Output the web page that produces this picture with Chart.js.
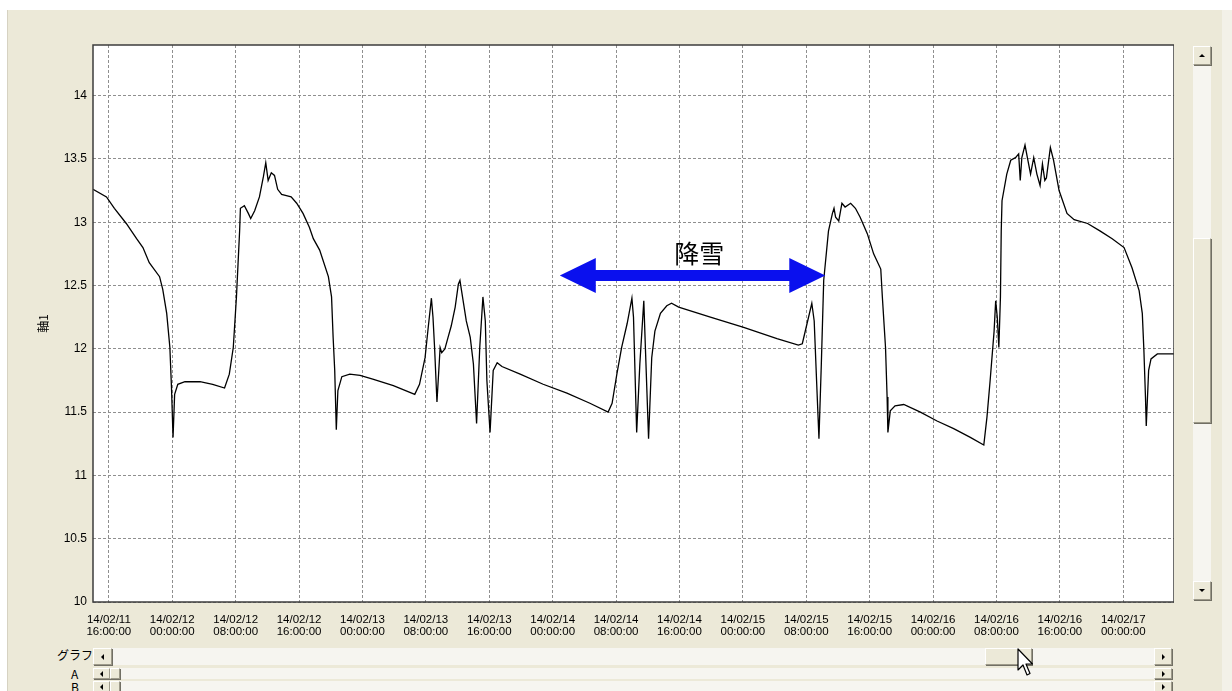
<!DOCTYPE html>
<html lang="ja">
<head>
<meta charset="utf-8">
<title>軸1 グラフ</title>
<script src="https://cdn.jsdelivr.net/npm/chart.js@4.4.1/dist/chart.umd.min.js"></script>
<style>
html, body { margin: 0; padding: 0; width: 1232px; height: 691px; overflow: hidden; background: #fff; }
#panel { position: absolute; left: 7px; top: 10px; width: 1225px; height: 681px; background: #ece9d8; border-left: 1px solid #d6d2c2; box-sizing: border-box; }
#edge { position: absolute; left: 1222px; top: 10px; width: 10px; height: 681px; background: #f3f1e8; }
#chartBox { position: absolute; left: 8px; top: 10px; width: 1166px; height: 632px; }
.track { position: absolute; background: #f6f5f0; }
.btn { position: absolute; box-sizing: border-box; background: #ece9d8; border: 1px solid; border-color: #fff #9d9a8a #9d9a8a #fff; box-shadow: 1px 1px 0 #716f64; }
.tri { position: absolute; width: 0; height: 0; border: 3px solid transparent; }
.up { border-top-width: 0; border-bottom-color: #000; }
.down { border-bottom-width: 0; border-top-color: #000; }
.left { border-left-width: 0; border-right-color: #000; }
.right { border-right-width: 0; border-left-color: #000; }
.lbl { position: absolute; font: 12px "Noto Sans CJK JP", sans-serif; color: #000; line-height: 12px; }
</style>
</head>
<body>
<div id="panel"></div>
<div id="edge"></div>

<div id="chartBox"><canvas id="lineChart"></canvas></div>

<!-- vertical scrollbar -->
<div class="track" style="left:1193px; top:46px; width:18px; height:554px;"></div>
<div class="btn" style="left:1193px; top:46px; width:18px; height:19px;"><div class="tri up" style="left:5px; top:7px;"></div></div>
<div class="btn" style="left:1193px; top:238px; width:18px; height:185px;"></div>
<div class="btn" style="left:1193px; top:581px; width:18px; height:19px;"><div class="tri down" style="left:5px; top:7px;"></div></div>

<!-- bottom scrollbars -->
<div class="lbl" style="left:57px; top:649px;">グラフ</div>
<div class="track" style="left:93px; top:648px; width:1079px; height:17px;"></div>
<div class="btn" style="left:93px; top:648px; width:19px; height:17px;"><div class="tri left" style="left:7px; top:5px;"></div></div>
<div class="btn" style="left:985px; top:648px; width:47px; height:17px;"></div>
<div class="btn" style="left:1154px; top:648px; width:18px; height:17px;"><div class="tri right" style="left:7px; top:5px;"></div></div>

<div class="lbl" style="left:71px; top:668px;">A</div>
<div class="track" style="left:93px; top:668px; width:1079px; height:11px;"></div>
<div class="btn" style="left:93px; top:668px; width:17px; height:11px;"><div class="tri left" style="left:6px; top:2px;"></div></div>
<div class="btn" style="left:110px; top:668px; width:10px; height:11px;"></div>
<div class="btn" style="left:1154px; top:668px; width:18px; height:11px;"><div class="tri right" style="left:7px; top:2px;"></div></div>

<div class="lbl" style="left:71px; top:681px;">B</div>
<div class="track" style="left:93px; top:681px; width:1079px; height:11px;"></div>
<div class="btn" style="left:93px; top:681px; width:17px; height:11px;"><div class="tri left" style="left:6px; top:2px;"></div></div>
<div class="btn" style="left:110px; top:681px; width:10px; height:11px;"></div>
<div class="btn" style="left:1154px; top:681px; width:18px; height:11px;"><div class="tri right" style="left:7px; top:2px;"></div></div>

<!-- mouse pointer -->
<svg style="position:absolute; left:1017px; top:648px;" width="16" height="32" viewBox="0 0 16 32">
  <path d="M1 1 L1 22 L6 17 L10 27 L13 25.5 L9 16 L15.5 16 Z" fill="#fff" stroke="#000" stroke-width="1.2" stroke-linejoin="round"/>
</svg>

<script>
// 2014/02/11 00:00 からの経過時間 [h]
const hours = [
  14.0, 15.7, 16.7, 18.2, 19.5, 20.3, 21.1, 22.4, 22.8, 23.3,
  23.7, 23.9, 24.1, 24.3, 24.7, 25.6, 27.5, 29.1, 30.6, 31.2,
  31.7, 32.1, 32.3, 32.5, 32.6, 33.1, 33.6, 33.9, 34.4, 35.0,
  35.5, 35.8, 36.1, 36.5, 36.9, 37.3, 37.8, 38.4, 39.0, 39.7,
  40.5, 41.3, 41.8, 42.6, 43.7, 44.1, 44.3, 44.5, 44.7, 44.9,
  45.4, 46.4, 47.7, 49.3, 51.9, 54.6, 55.2, 55.9, 56.3, 56.7,
  56.9, 57.1, 57.4, 57.8, 58.0, 58.4, 58.8, 59.2, 59.7, 60.1,
  60.3, 60.7, 61.1, 61.6, 62.0, 62.4, 62.8, 63.2, 63.5, 63.7,
  64.1, 64.5, 65.0, 65.6, 67.9, 70.8, 73.8, 76.7, 79.0, 79.5,
  80.1, 80.7, 81.4, 82.0, 82.2, 82.6, 83.0, 83.5, 83.7, 84.1,
  84.5, 84.9, 85.6, 86.4, 87.0, 87.9, 91.9, 96.1, 100.3, 103.0,
  103.5, 104.1, 104.7, 105.0, 105.3, 105.6, 105.9, 106.2, 106.8, 107.3,
  107.5, 107.7, 108.1, 108.5, 108.9, 109.6, 110.2, 110.8, 111.7, 112.5,
  113.4, 113.6, 114.0, 114.2, 114.3, 114.6, 115.2, 116.3, 118.4, 120.5,
  122.6, 124.7, 126.4, 126.8, 127.2, 127.7, 127.9, 128.1, 128.3, 128.5,
  128.6, 128.7, 129.3, 129.8, 130.4, 130.8, 131.0, 131.2, 131.6, 131.9,
  132.3, 132.7, 133.1, 133.5, 133.8, 134.1, 134.3, 134.8, 135.2, 135.9,
  136.9, 137.8, 139.5, 141.1, 142.6, 144.1, 145.1, 146.0, 146.4, 146.6,
  146.8, 146.9, 147.2, 147.5, 148.3, 149.6, 150.4
];

// 軸1 の値
const volts = [
  13.26, 13.20, 13.11, 12.99, 12.87, 12.80, 12.68, 12.57, 12.47, 12.28,
  12.01, 11.70, 11.30, 11.64, 11.72, 11.74, 11.74, 11.72, 11.69, 11.80,
  12.01, 12.41, 12.67, 12.93, 13.11, 13.13, 13.07, 13.03, 13.09, 13.20,
  13.36, 13.47, 13.33, 13.39, 13.37, 13.26, 13.22, 13.21, 13.20, 13.15,
  13.07, 12.96, 12.87, 12.78, 12.57, 12.41, 12.09, 11.83, 11.36, 11.67,
  11.78, 11.80, 11.79, 11.76, 11.71, 11.64, 11.72, 11.93, 12.17, 12.40,
  12.25, 12.01, 11.58, 12.01, 11.97, 12.00, 12.09, 12.18, 12.33, 12.51,
  12.54, 12.38, 12.22, 12.09, 11.88, 11.41, 12.01, 12.41, 12.22, 11.75,
  11.34, 11.83, 11.89, 11.86, 11.80, 11.72, 11.65, 11.57, 11.50, 11.57,
  11.80, 12.01, 12.20, 12.40, 12.25, 11.34, 11.88, 12.38, 12.01, 11.29,
  11.93, 12.14, 12.28, 12.34, 12.36, 12.33, 12.25, 12.17, 12.08, 12.03,
  12.04, 12.20, 12.36, 12.22, 11.75, 11.29, 11.88, 12.54, 12.93, 13.07,
  13.11, 13.04, 13.01, 13.15, 13.12, 13.15, 13.11, 13.04, 12.91, 12.75,
  12.63, 12.41, 12.01, 11.62, 11.34, 11.51, 11.55, 11.56, 11.50, 11.43,
  11.37, 11.30, 11.24, 11.46, 11.75, 12.14, 12.38, 12.25, 12.01, 12.41,
  12.93, 13.17, 13.38, 13.49, 13.51, 13.54, 13.33, 13.51, 13.61, 13.51,
  13.38, 13.51, 13.38, 13.29, 13.46, 13.33, 13.35, 13.59, 13.49, 13.25,
  13.07, 13.02, 12.99, 12.93, 12.87, 12.80, 12.64, 12.46, 12.28, 11.99,
  11.62, 11.39, 11.83, 11.92, 11.96, 11.96, 11.96
];

// x軸目盛り（8時間ごと）
const xTickHours = [16, 24, 32, 40, 48, 56, 64, 72, 80, 88, 96, 104, 112, 120, 128, 136, 144];
const xTickLabels = [
  ['14/02/11', '16:00:00'], ['14/02/12', '00:00:00'], ['14/02/12', '08:00:00'],
  ['14/02/12', '16:00:00'], ['14/02/13', '00:00:00'], ['14/02/13', '08:00:00'],
  ['14/02/13', '16:00:00'], ['14/02/14', '00:00:00'], ['14/02/14', '08:00:00'],
  ['14/02/14', '16:00:00'], ['14/02/15', '00:00:00'], ['14/02/15', '08:00:00'],
  ['14/02/15', '16:00:00'], ['14/02/16', '00:00:00'], ['14/02/16', '08:00:00'],
  ['14/02/16', '16:00:00'], ['14/02/17', '00:00:00']
];
const yTicks = [10, 10.5, 11, 11.5, 12, 12.5, 13, 13.5, 14];

// 降雪の矢印
const snowFrom = 72.9;
const snowTo = 106.4;
const snowLevel = 12.58;
const snowText = '降雪';
const snowTextHour = 90.5;
const snowTextLevel = 12.75;

const plotFrame = {
    id: 'plotFrame',
    beforeDraw(chart) {
        const { ctx, chartArea: a } = chart;
        ctx.save();
        ctx.fillStyle = '#fff';
        ctx.fillRect(a.left, a.top, a.right - a.left, a.bottom - a.top);
        ctx.restore();
    },
    afterDatasetsDraw(chart) {
        const { ctx } = chart;
        const xs = chart.scales.x, ys = chart.scales.y;
        const x1 = xs.getPixelForValue(snowFrom);
        const x2 = xs.getPixelForValue(snowTo);
        const y = ys.getPixelForValue(snowLevel);
        const head = 36, hh = 17.5, sh = 5.5;
        ctx.save();
        ctx.fillStyle = '#0a10ee';
        ctx.beginPath();
        ctx.moveTo(x1, y);
        ctx.lineTo(x1 + head, y - hh);
        ctx.lineTo(x1 + head, y - sh);
        ctx.lineTo(x2 - head, y - sh);
        ctx.lineTo(x2 - head, y - hh);
        ctx.lineTo(x2, y);
        ctx.lineTo(x2 - head, y + hh);
        ctx.lineTo(x2 - head, y + sh);
        ctx.lineTo(x1 + head, y + sh);
        ctx.lineTo(x1 + head, y + hh);
        ctx.closePath();
        ctx.fill();

        ctx.fillStyle = '#000';
        ctx.font = '25px "Noto Sans CJK JP", sans-serif';
        ctx.textAlign = 'center';
        ctx.textBaseline = 'middle';
        ctx.fillText(snowText, xs.getPixelForValue(snowTextHour), ys.getPixelForValue(snowTextLevel));
        ctx.restore();
    },
    afterDraw(chart) {
        const { ctx, chartArea: a } = chart;
        ctx.save();
        ctx.strokeStyle = '#3c3c3c';
        ctx.lineWidth = 1.5;
        ctx.strokeRect(a.left, a.top, a.right - a.left, a.bottom - a.top);
        ctx.restore();
    }
};

const tickFont = { family: '"Liberation Sans", Arial, sans-serif', size: 12 };

new Chart(document.getElementById('lineChart'), {
    type: 'line',
    data: {
        datasets: [{
            label: '軸1',
            data: hours.map((h, i) => ({ x: h, y: volts[i] })),
            borderColor: '#000',
            borderWidth: 1.3,
            pointRadius: 0,
            tension: 0,
            fill: false
        }]
    },
    options: {
        responsive: true,
        maintainAspectRatio: false,
        animation: false,
        layout: { padding: { top: 35, right: 0, bottom: 0, left: 0 } },
        plugins: {
            legend: { display: false },
            tooltip: { enabled: false }
        },
        scales: {
            x: {
                type: 'linear',
                min: 14,
                max: 150.4,
                afterBuildTicks: scale => { scale.ticks = xTickHours.map(v => ({ value: v })); },
                afterFit: scale => { scale.height = 40; },
                ticks: {
                    autoSkip: false,
                    maxRotation: 0,
                    padding: 12,
                    color: '#000',
                    font: { family: tickFont.family, size: 11.5, lineHeight: 1.05 },
                    callback: v => xTickLabels[xTickHours.indexOf(v)]
                },
                grid: { color: '#8f8f8f', lineWidth: 1, drawTicks: false },
                border: { display: false, dash: [3, 2] }
            },
            y: {
                min: 10,
                max: 14.4,
                afterBuildTicks: scale => { scale.ticks = yTicks.map(v => ({ value: v })); },
                afterFit: scale => { scale.width = 85; },
                ticks: {
                    padding: 6,
                    color: '#000',
                    font: tickFont,
                    callback: v => String(v)
                },
                grid: { color: '#8f8f8f', lineWidth: 1, drawTicks: false },
                border: { display: false, dash: [3, 2] },
                title: {
                    display: true,
                    text: '軸1',
                    color: '#000',
                    font: { family: '"Noto Sans CJK JP", sans-serif', size: 12 },
                    padding: { top: 28, bottom: 0 }
                }
            }
        }
    },
    plugins: [plotFrame]
});
</script>
</body>
</html>
